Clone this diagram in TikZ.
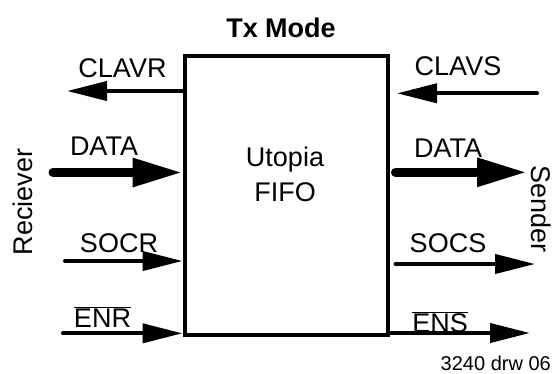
\documentclass[tikz,border=0pt]{standalone}
\usepackage{fontspec}
\setmainfont{Liberation Sans}
\usetikzlibrary{arrows.meta, positioning, calc}

\newcommand{\negsig}[1]{$\overline{\mbox{#1}}$}

\tikzset{
  lbl/.style={font=\fontsize{27}{35}\selectfont, inner sep=0pt, anchor=base},
  sig/.style={line width=4pt, line cap=round, -{Triangle[length=40pt, width=19pt]}},
  bus/.style={line width=9pt, line cap=round, -{Triangle[length=50pt, width=27pt]}},
}

\begin{document}
\begin{tikzpicture}[x=1pt, y=-1pt]
\useasboundingbox (0,0) rectangle (553,373);

\node[draw, line width=4pt, minimum width=203pt, minimum height=279pt] (fifo) at (286,195.5) {};
\node[lbl, anchor=center, align=center] (fifotxt) at (285,174.5) {Utopia\\FIFO};
\node[lbl, font=\fontsize{27}{35}\selectfont\bfseries] (mode) at (281,37) {Tx Mode};

% free ends
\coordinate (clavrR) at (67,91);
\coordinate (dataR) at (53,172.5);
\coordinate (socR) at (65,261);
\coordinate (enR) at (63,333.3);
\coordinate (clavsS) at (537,93.3);
\coordinate (dataS) at (527,172.3);
\coordinate (socS) at (535,264);
\coordinate (enS) at (530,333);

% reciever side
\draw[sig] (fifo.west |- clavrR) -- (clavrR);
\draw[bus] (dataR) -- (fifo.west |- dataR);
\draw[sig] (socR) -- (fifo.west |- socR);
\draw[sig] (enR) -- (fifo.west |- enR);
\node[lbl] (clavrlbl) at (122.5,77) {CLAVR};
\node[lbl] (datarlbl) at (104,155) {DATA};
\node[lbl] (socrlbl) at (119,252) {SOCR};
\node[lbl] (enrlbl) at (102.5,327) {\negsig{ENR}};
\node[lbl, anchor=center, rotate=90] (rx) at (23,202) {Reciever};

% sender side
\draw[sig] (clavsS) -- ($(fifo.east |- clavsS)+(7.5,0)$);
\draw[bus] ($(fifo.east |- dataS)+(6,0)$) -- (dataS);
\draw[sig] ($(fifo.east |- socS)+(6,0)$) -- (socS);
\draw[sig] (fifo.east |- enS) -- (enS);
\node[lbl] (clavslbl) at (458,75) {CLAVS};
\node[lbl] (dataslbl) at (448,157) {DATA};
\node[lbl] (socslbl) at (448,252) {SOCS};
\node[lbl] (enslbl) at (440,332) {\negsig{ENS}};
\node[lbl, anchor=center, rotate=-90] (tx) at (541,209) {Sender};

\node[lbl, anchor=base east, font=\fontsize{20}{24}\selectfont] (drw) at (551,370) {3240 drw 06};
\end{tikzpicture}
\end{document}
